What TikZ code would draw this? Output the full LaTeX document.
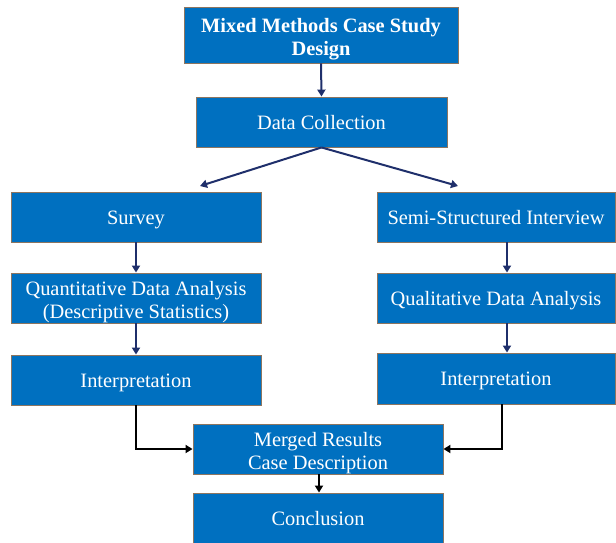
\documentclass[tikz,border=0pt]{standalone}
\usepackage{fontspec}
\setmainfont{Liberation Serif}
\usetikzlibrary{arrows.meta}
\definecolor{boxblue}{HTML}{0070C0}
\definecolor{boxedge}{HTML}{8C7560}
\definecolor{navy}{HTML}{1F2F6B}
\newcommand{\twolines}[2]{\begin{tabular}[t]{@{}c@{}}#1\\#2\end{tabular}}
\begin{document}
\begin{tikzpicture}[x=1pt,y=-1pt,
  blk/.style={rectangle,draw=boxedge,line width=0.9pt,fill=boxblue,text=white,
    inner sep=0pt,minimum width=250pt,minimum height=50pt,
    font=\fontsize{20.4}{23.5}\selectfont},
  oneline/.style={text height=18pt,text depth=4pt},
  twoline/.style={text height=14pt,text depth=20pt},
  navyarrow/.style={draw=navy,line width=2pt,-{Triangle[length=7pt,width=8pt]}},
  blackarrow/.style={draw=black,line width=2pt,-{Triangle[length=7pt,width=8pt]}}]
\useasboundingbox (0,0) rectangle (616,542);
\node[blk,twoline,minimum width=274pt,minimum height=56pt,font=\fontsize{20.4}{23.5}\selectfont\bfseries] (top) at (321,35) {\twolines{Mixed Methods Case Study}{Design}};
\node[blk,oneline,minimum width=251pt] (dc) at (321.5,122) {Data Collection};
\node[blk,oneline] (survey) at (136,217) {Survey};
\node[blk,twoline] (quant) at (136,298) {\twolines{Quantitative Data Analysis}{(Descriptive Statistics)}};
\node[blk,oneline] (interpL) at (136,380) {Interpretation};
\node[blk,oneline,minimum width=238pt] (semi) at (496,217) {Semi-Structured Interview};
\node[blk,oneline,minimum width=238pt] (qual) at (496,298) {Qualitative Data Analysis};
\node[blk,oneline,minimum width=238pt,minimum height=51pt] (interpR) at (496,378.5) {Interpretation};
\node[blk,twoline] (merged) at (318,449) {\twolines{Merged Results}{Case Description}};
\node[blk,oneline] (concl) at (318,518) {Conclusion};
\coordinate (tipL) at (200,186);
\coordinate (tipR) at (458,186);
\draw[navyarrow] (top.south) -- (dc.north);
\draw[navyarrow] (dc.south) -- (tipL);
\draw[navyarrow] (dc.south) -- (tipR);
\draw[navyarrow] (survey.south) -- (quant.north);
\draw[navyarrow] (quant.south) -- (interpL.north);
\draw[navyarrow] ([xshift=11pt]semi.south) -- ([xshift=11pt]qual.north);
\draw[navyarrow] ([xshift=11pt]qual.south) -- ([xshift=11pt]interpR.north);
\draw[blackarrow] (interpL.south) |- (merged.west);
\draw[blackarrow] ([xshift=6pt]interpR.south) |- (merged.east);
\draw[blackarrow] ([xshift=1pt]merged.south) -- ([xshift=1pt]concl.north);
\end{tikzpicture}
\end{document}
